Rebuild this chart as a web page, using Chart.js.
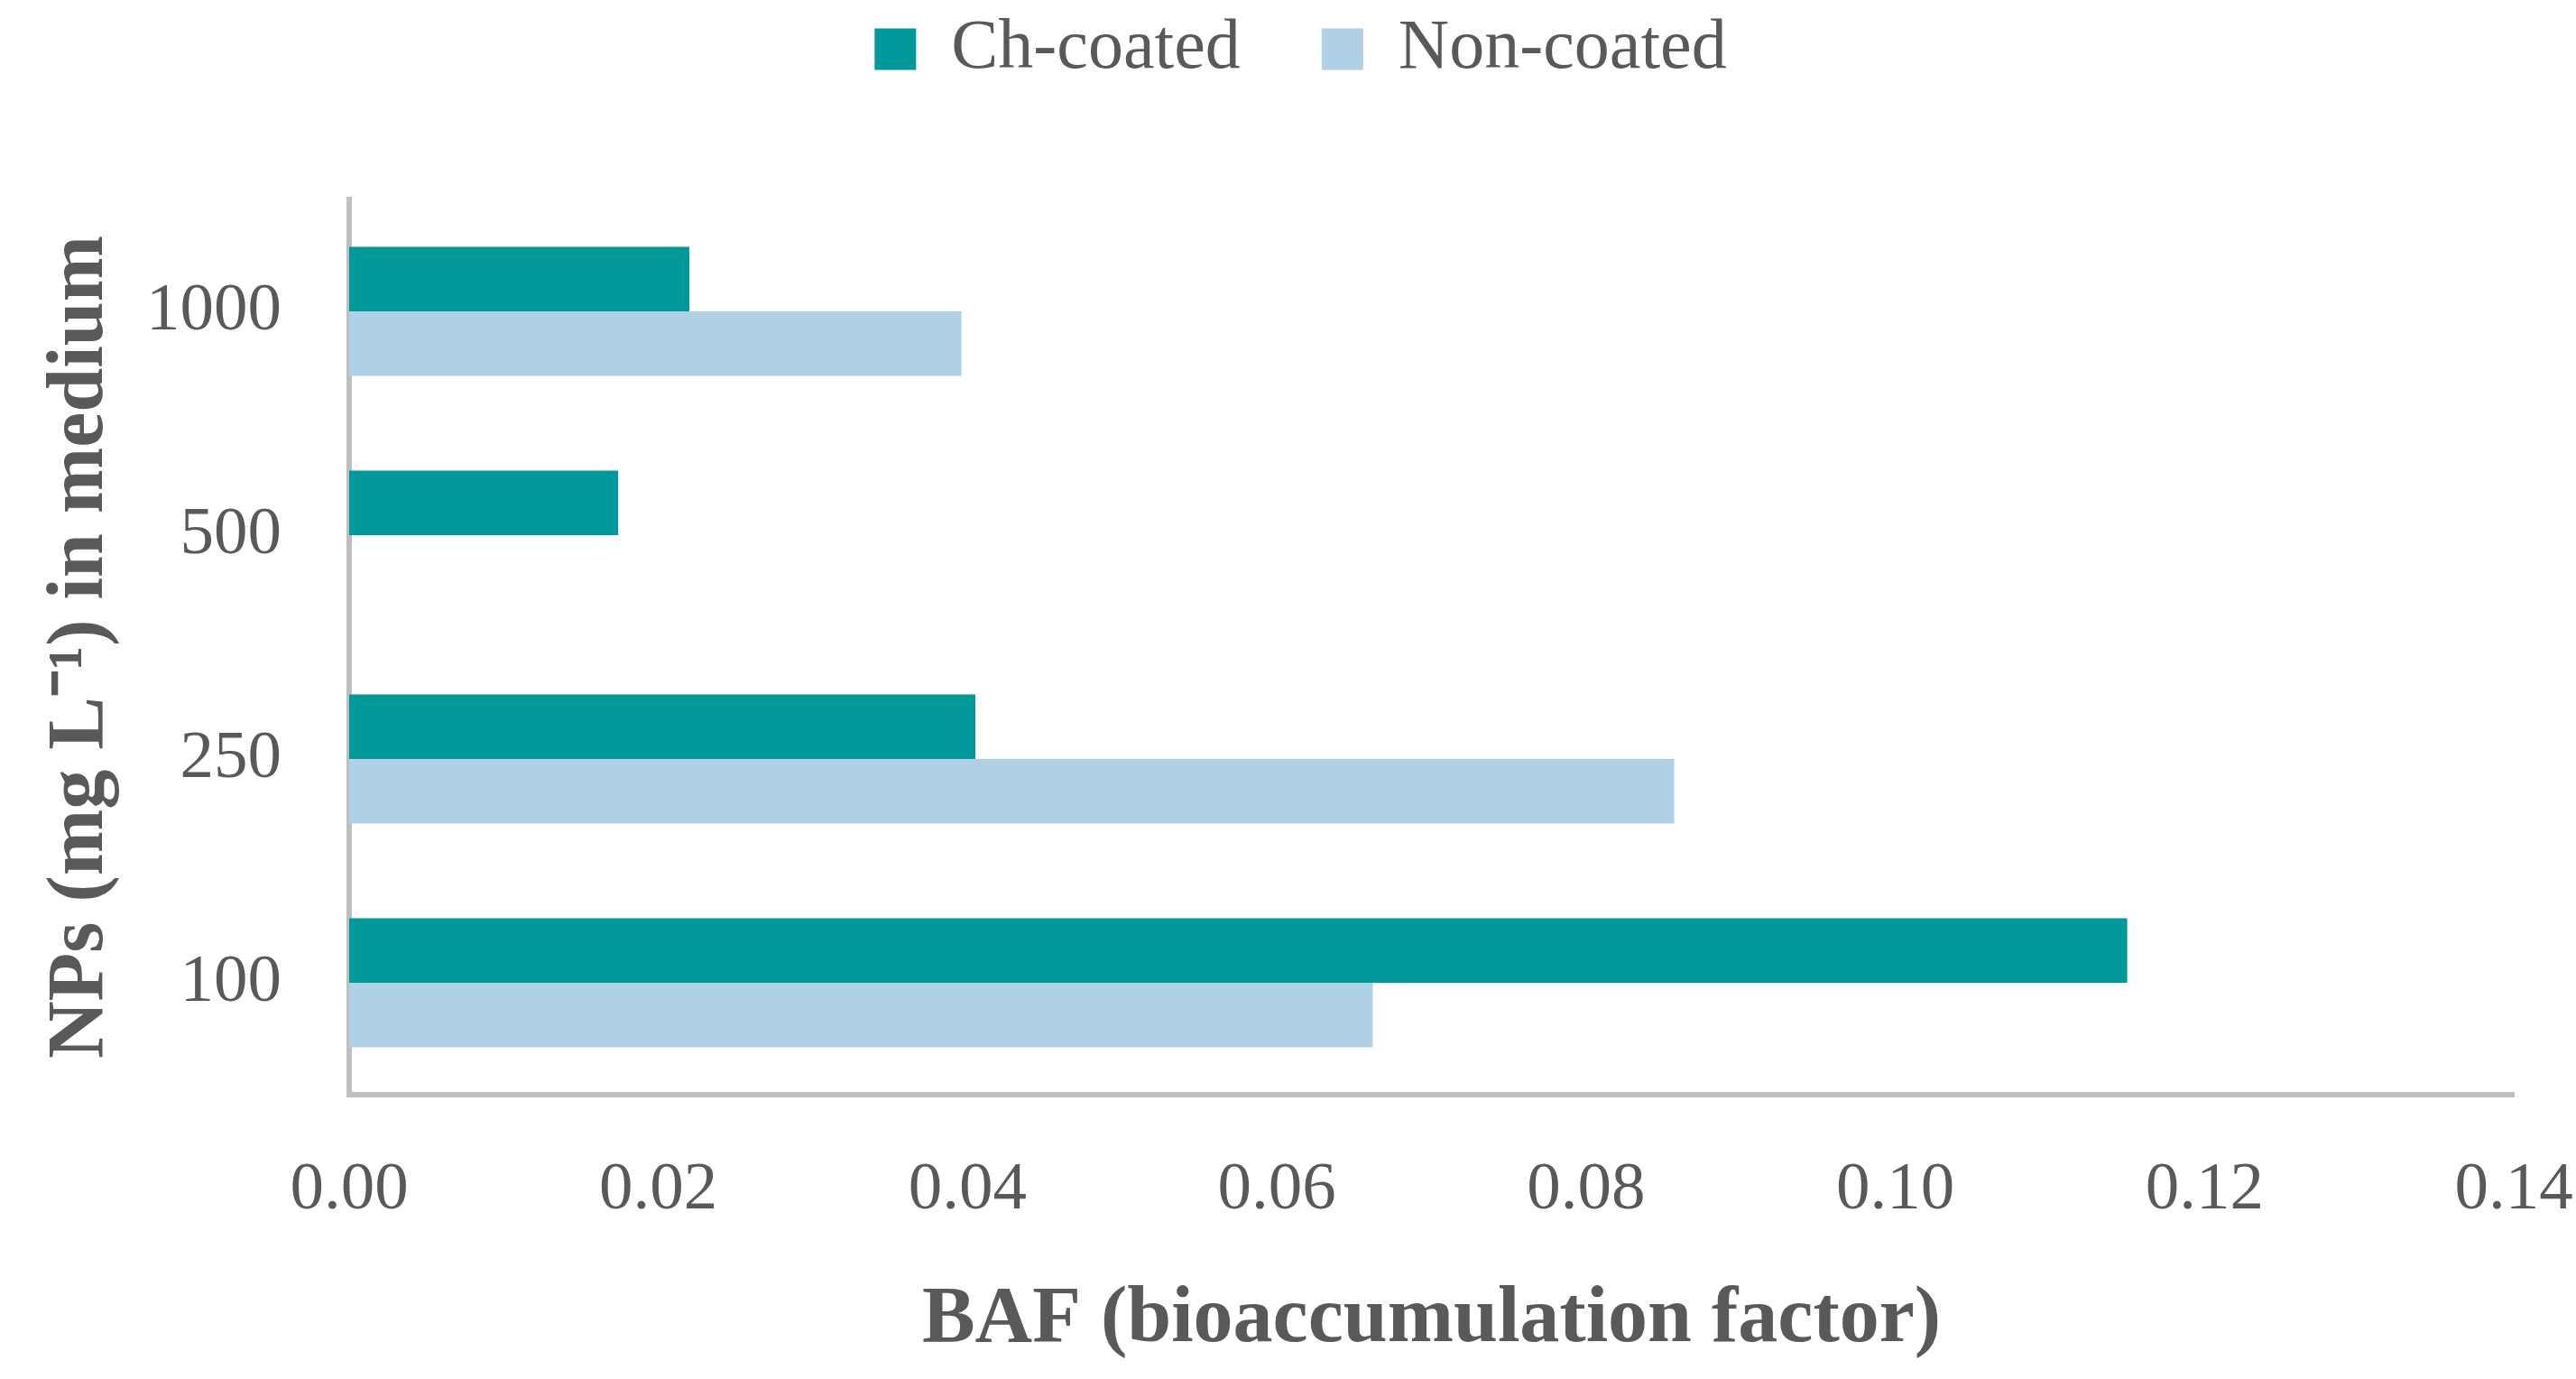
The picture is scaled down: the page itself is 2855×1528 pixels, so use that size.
<!DOCTYPE html>
<html>
<head>
<meta charset="utf-8">
<script src="https://cdn.jsdelivr.net/npm/chart.js@4.4.1/dist/chart.umd.min.js"></script>
<style>
  html, body { margin: 0; padding: 0; background: #ffffff; }
  #wrap { width: 2855px; height: 1528px; }
</style>
</head>
<body>
<div id="wrap"><canvas id="c" width="2855" height="1528"></canvas></div>
<script>
// ---- data (top-to-bottom category order) ----
const categories = ['1000', '500', '250', '100'];
const chCoated   = [0.0220, 0.0174, 0.0405, 0.1150];
const nonCoated  = [0.0396, null,   0.0857, 0.0662];
const seriesNames = ['Ch-coated', 'Non-coated'];
const xTicks = [0.00, 0.02, 0.04, 0.06, 0.08, 0.10, 0.12, 0.14];

const FONT = "'Liberation Serif', 'Times New Roman', serif";
const TEXT = '#595959';
const AXIS = '#BFBFBF';

const legendSpacer = {
  id: 'legendSpacer',
  beforeLayout(chart) {
    const lg = chart.legend;
    if (lg && !lg._spacerPatched) {
      const fit = lg.fit;
      lg.fit = function () { fit.call(this); this.height = 295.5; };
      lg._spacerPatched = true;
    }
  }
};

new Chart(document.getElementById('c'), {
  type: 'bar',
  data: {
    labels: categories,
    datasets: [
      { label: seriesNames[0], data: chCoated,  backgroundColor: '#009999', borderWidth: 0 },
      { label: seriesNames[1], data: nonCoated, backgroundColor: '#B0D0E6', borderWidth: 0 }
    ]
  },
  plugins: [legendSpacer],
  options: {
    indexAxis: 'y',
    responsive: false,
    animation: false,
    categoryPercentage: 0.577,
    barPercentage: 1.0,
    layout: { padding: { left: 97, right: 69, top: -74.5, bottom: 0 } },
    plugins: {
      tooltip: { enabled: false },
      legend: {
        display: true,
        position: 'top',
        labels: {
          font: { family: FONT, size: 78 },
          color: TEXT,
          boxWidth: 46,
          boxHeight: 46,
          padding: 90
        }
      }
    },
    scales: {
      x: {
        type: 'linear',
        min: 0,
        max: 0.14,
        afterBuildTicks(axis) { axis.ticks = xTicks.map(v => ({ value: v })); },
        afterFit(axis) { axis.height = 315; },
        grid: { display: false, drawTicks: false },
        border: { display: true, color: AXIS, width: 6 },
        ticks: {
          padding: 0,
          color: TEXT,
          font: { family: FONT, size: 75, lineHeight: 2.83 },
          callback: v => Number(v).toFixed(2)
        },
        title: {
          display: true,
          text: 'BAF (bioaccumulation factor)',
          color: TEXT,
          font: { family: FONT, size: 88, weight: 'bold', lineHeight: 1.2 },
          padding: { top: 0, bottom: 12 }
        }
      },
      y: {
        type: 'category',
        afterFit(axis) { axis.width = 290; },
        grid: { display: false, drawTicks: false },
        border: { display: true, color: AXIS, width: 6 },
        ticks: {
          padding: 75,
          color: TEXT,
          font: { family: FONT, size: 75, lineHeight: 1.2 }
        },
        title: {
          display: true,
          text: 'NPs (mg L\u207B\u00B9) in medium',
          color: TEXT,
          font: { family: FONT, size: 88, weight: 'bold', lineHeight: 1.2 },
          padding: { top: -60, bottom: 0 }
        }
      }
    }
  }
});
</script>
</body>
</html>
